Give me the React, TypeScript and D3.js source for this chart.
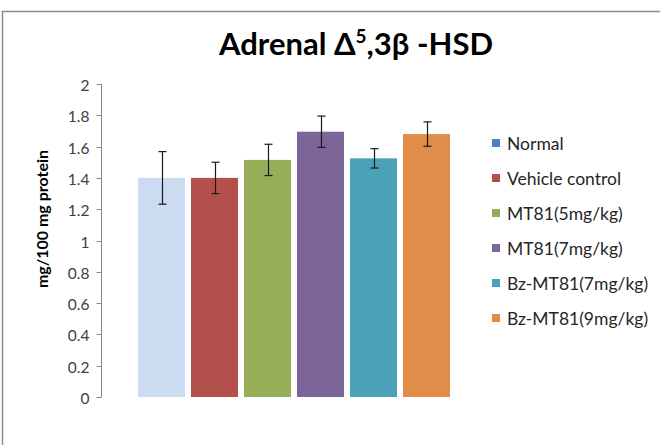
import { useEffect, useRef } from 'react'
import * as d3 from 'd3'

const groups = ['Normal', 'Vehicle control', 'MT81(5mg/kg)', 'MT81(7mg/kg)', 'Bz-MT81(7mg/kg)', 'Bz-MT81(9mg/kg)']
const values = [1.4, 1.4, 1.515, 1.695, 1.525, 1.68]
const errors = [0.168, 0.1, 0.1, 0.1, 0.062, 0.078]
const barColors = ['#CBDCF2', '#B3504C', '#97AE59', '#7D6499', '#4BA1B7', '#DF8D48']
const legendColors = ['#4F81BD', '#B3504C', '#97AE59', '#7D6499', '#4BA1B7', '#DF8D48']
const yTicks = [0, 0.2, 0.4, 0.6, 0.8, 1, 1.2, 1.4, 1.6, 1.8, 2]

const W = 660
const H = 445
const font = 'Lato, "Open Sans", sans-serif'

export default function App() {
  const svgRef = useRef<SVGSVGElement | null>(null)

  useEffect(() => {
    const svgEl = svgRef.current
    if (!svgEl) return
    const svg = d3.select(svgEl)
    svg.selectAll('*').remove()

    const plot = { left: 101, right: 487, top: 84, bottom: 397 }

    // chart border (cropped on right/bottom)
    svg.append('rect')
      .attr('x', 2.5).attr('y', 11.5)
      .attr('width', 800).attr('height', 600)
      .attr('fill', 'white').attr('stroke', '#8c8c8c').attr('stroke-width', 1.5)

    const y = d3.scaleLinear().domain([0, 2]).range([plot.bottom, plot.top])
    // one category, the six series clustered in the middle of the plot
    const x1 = d3.scaleBand().domain(groups).range([plot.left + 34, plot.right - 34]).paddingInner(0.113).paddingOuter(0.0565)

    // y axis
    const axis = svg.append('g').attr('transform', `translate(${plot.left + 0.5},0)`)
    axis.append('line').attr('y1', plot.top).attr('y2', plot.bottom).attr('stroke', '#868686')
    yTicks.forEach((t) => {
      const yy = Math.round(y(t)) + 0.5
      axis.append('line').attr('x1', -5).attr('x2', 0).attr('y1', yy).attr('y2', yy).attr('stroke', '#868686')
      axis.append('text')
        .attr('x', -12).attr('y', yy)
        .attr('text-anchor', 'end').attr('dominant-baseline', 'central')
        .attr('font-family', font).attr('font-size', 15.5).attr('fill', '#404040')
        .text(String(t))
    })

    // bars
    groups.forEach((grp, i) => {
      const bx = x1(grp) as number
      const bw = x1.bandwidth()
      svg.append('rect')
        .attr('x', bx).attr('y', y(values[i]))
        .attr('width', bw).attr('height', y(0) - y(values[i]))
        .attr('fill', barColors[i])
      const cx = Math.round(bx + bw / 2) + 0.5
      const top = y(values[i] + errors[i])
      const bot = y(values[i] - errors[i])
      const eb = svg.append('g').attr('stroke', '#1a1a1a').attr('stroke-width', 1.2)
      eb.append('line').attr('x1', cx).attr('x2', cx).attr('y1', top).attr('y2', bot)
      eb.append('line').attr('x1', cx - 4).attr('x2', cx + 4).attr('y1', top).attr('y2', top)
      eb.append('line').attr('x1', cx - 4).attr('x2', cx + 4).attr('y1', bot).attr('y2', bot)
    })

    // title
    const title = svg.append('text')
      .attr('x', 356).attr('y', 55)
      .attr('text-anchor', 'middle')
      .attr('font-family', font).attr('font-size', 31).attr('font-weight', 'bold').attr('fill', '#000')
    title.append('tspan').text('Adrenal Δ')
    title.append('tspan').attr('font-size', 19).attr('dy', -12).text('5')
    title.append('tspan').attr('dy', 12).text(',3β -HSD')

    // y label
    svg.append('text')
      .attr('transform', `translate(48,219) rotate(-90)`)
      .attr('text-anchor', 'middle')
      .attr('font-family', font).attr('font-size', 16).attr('font-weight', 'bold').attr('fill', '#000')
      .text('mg/100 mg protein')

    // legend
    const legend = svg.append('g').attr('transform', 'translate(492,143)')
    groups.forEach((grp, i) => {
      const row = legend.append('g').attr('transform', `translate(0,${i * 35})`)
      row.append('rect').attr('x', 0).attr('y', -4).attr('width', 8).attr('height', 8).attr('fill', legendColors[i])
      row.append('text')
        .attr('x', 15).attr('y', 0).attr('dominant-baseline', 'central')
        .attr('font-family', font).attr('font-size', 17.5).attr('fill', '#262626')
        .text(grp)
    })
  }, [])

  return (
    <svg
      ref={svgRef}
      width={W}
      height={H}
      style={{ position: 'absolute', left: 0, top: 0, background: 'white' }}
    />
  )
}
